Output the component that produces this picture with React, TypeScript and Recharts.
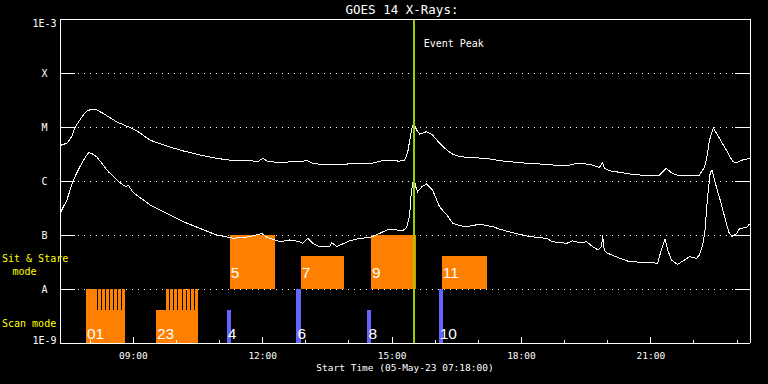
import { CartesianGrid, ComposedChart, Line, ReferenceArea, ReferenceLine, XAxis, YAxis } from 'recharts';

const TITLE = 'GOES 14 X-Rays:';
const X_TITLE = 'Start Time (05-May-23 07:18:00)';
const PEAK_LABEL = 'Event Peak';

// hours of day (UT)
const X_DOMAIN: [number, number] = [7.3, 23.3];
const HOUR_TICKS = [8, 9, 10, 11, 12, 13, 14, 15, 16, 17, 18, 19, 20, 21, 22, 23];
const LABELED_HOURS = [9, 12, 15, 18, 21];

// log10 of flux (W/m^2)
const Y_TICKS = [-9, -8, -7, -6, -5, -4, -3];
const Y_TICK_LABELS = ['1E-9', 'A', 'B', 'C', 'M', 'X', '1E-3'];

// 1-8 A channel
const LONG_TIME = [
  7.32, 7.46, 7.57, 7.65, 7.76, 7.84, 7.92, 8.03, 8.15, 8.3,
  8.61, 8.88, 9.11, 9.39, 9.77, 10.16, 10.54, 10.93, 11.32, 11.7,
  11.89, 12.0, 12.12, 12.47, 12.63, 12.86, 13.02, 13.16, 13.32, 13.79,
  14.02, 14.55, 14.78, 15.18, 15.29, 15.36, 15.41, 15.46, 15.5, 15.57,
  15.64, 15.8, 15.94, 16.1, 16.27, 16.41, 16.57, 16.87, 17.19, 17.5,
  17.96, 18.42, 18.72, 19.05, 19.28, 19.58, 19.81, 19.88, 19.93, 20.04,
  20.51, 20.97, 21.2, 21.36, 21.48, 21.67, 22.13, 22.25, 22.31, 22.36,
  22.45, 22.59, 22.75, 22.9, 22.98, 23.13, 23.29,
];
const LONG_FLUX = [
  4.6e-6, 5.0e-6, 6.6e-6, 9.9e-6, 1.35e-5, 1.67e-5, 1.98e-5, 2.13e-5, 2.07e-5, 1.79e-5,
  1.25e-5, 1.01e-5, 8.2e-6, 5.7e-6, 4.45e-6, 3.6e-6, 3.03e-6, 2.63e-6, 2.38e-6, 2.38e-6,
  2.28e-6, 2.63e-6, 2.3e-6, 2.18e-6, 2.28e-6, 2.25e-6, 2.42e-6, 2.13e-6, 2.04e-6, 1.98e-6,
  2.09e-6, 2.15e-6, 2.38e-6, 2.34e-6, 2.45e-6, 3.3e-6, 5.7e-6, 9.6e-6, 1.19e-5, 8.8e-6,
  7.4e-6, 8.2e-6, 7.1e-6, 5.0e-6, 3.75e-6, 3.12e-6, 2.82e-6, 2.7e-6, 2.63e-6, 2.38e-6,
  2.18e-6, 2.07e-6, 1.98e-6, 1.9e-6, 2.13e-6, 2.04e-6, 1.79e-6, 2.18e-6, 1.72e-6, 1.55e-6,
  1.35e-6, 1.24e-6, 1.29e-6, 1.72e-6, 1.41e-6, 1.24e-6, 1.29e-6, 1.84e-6, 3.03e-6, 5.7e-6,
  9.5e-6, 6.2e-6, 3.75e-6, 2.28e-6, 2.18e-6, 2.45e-6, 2.63e-6,
];

// 0.5-4 A channel
const SHORT_TIME = [
  7.32, 7.46, 7.61, 7.76, 7.92, 7.97, 8.03, 8.15, 8.42, 8.69,
  8.83, 8.88, 9.0, 9.39, 9.77, 10.16, 10.54, 10.93, 11.32, 11.7,
  11.98, 12.07, 12.4, 12.63, 12.86, 12.93, 13.05, 13.16, 13.32, 13.56,
  13.6, 13.72, 13.79, 14.02, 14.25, 14.48, 14.71, 14.88, 15.11, 15.25,
  15.34, 15.41, 15.43, 15.47, 15.51, 15.55, 15.59, 15.69, 15.8, 15.94,
  16.1, 16.27, 16.41, 16.57, 16.73, 17.03, 17.33, 17.5, 17.8, 18.12,
  18.42, 18.58, 18.72, 19.05, 19.19, 19.35, 19.51, 19.65, 19.77, 19.86,
  19.88, 19.92, 19.97, 20.28, 20.51, 20.97, 21.16, 21.23, 21.33, 21.39,
  21.48, 21.62, 21.78, 21.9, 22.06, 22.13, 22.2, 22.25, 22.31, 22.38,
  22.42, 22.52, 22.63, 22.75, 22.82, 22.89, 22.99, 23.06, 23.21, 23.29,
];
const SHORT_FLUX = [
  2.7e-7, 4.45e-7, 1.04e-6, 1.84e-6, 3.03e-6, 3.34e-6, 3.26e-6, 2.82e-6, 1.49e-6, 9.3e-7,
  7.8e-7, 8.4e-7, 6.1e-7, 3.6e-7, 2.52e-7, 1.76e-7, 1.33e-7, 1.0e-7, 8.7e-8, 9.3e-8,
  1.07e-7, 9.3e-8, 7.5e-8, 8.1e-8, 7.5e-8, 7.0e-8, 8.7e-8, 7.0e-8, 6.1e-8, 6.25e-8,
  7.2e-8, 6.1e-8, 6.5e-8, 7.8e-8, 8.7e-8, 8.9e-8, 1.07e-7, 1.24e-7, 1.24e-7, 1.2e-7,
  1.39e-7, 2.34e-7, 4.45e-7, 8.4e-7, 1.12e-6, 7.8e-7, 6.3e-7, 7.8e-7, 8.8e-7, 6.8e-7,
  3.34e-7, 2.34e-7, 1.65e-7, 1.49e-7, 1.43e-7, 1.58e-7, 1.43e-7, 1.28e-7, 1.1e-7, 9.6e-8,
  8.9e-8, 8.7e-8, 7.5e-8, 7.0e-8, 7.8e-8, 7.2e-8, 7.5e-8, 6.1e-8, 5.3e-8, 6.1e-8,
  1.0e-7, 5.3e-8, 4.7e-8, 3.7e-8, 3.2e-8, 3.1e-8, 3.0e-8, 4.9e-8, 8.3e-8, 5.3e-8,
  3.44e-8, 2.86e-8, 3.44e-8, 3.96e-8, 3.71e-8, 4.27e-8, 6.5e-8, 1.07e-7, 4.45e-7, 1.49e-6,
  1.55e-6, 7.8e-7, 3.86e-7, 1.65e-7, 1.07e-7, 9.3e-8, 1.07e-7, 1.33e-7, 1.36e-7, 1.6e-7,
];

const EVENT_PEAK = 15.5;

// mode rows: scan row is 1E-9..1E-8, sit & stare row is 1E-8..1E-7
const FLOOR = 1e-9;
const SCAN_HALF = 4.1e-9;
const SPLIT = 1e-8;

// scan blocks (orange, lower half of scan row)
const SCAN_ID = ['01', '23'];
const SCAN_START = [7.902, 9.524];
const SCAN_END = [8.806, 10.497];
// individual scan strips above the blocks
const STRIP_START = [
  7.902, 8.174, 8.266, 8.359, 8.452, 8.544, 8.637, 8.73,
  9.756, 9.856, 9.948, 10.041, 10.143, 10.243, 10.335, 10.435,
];
const STRIP_END = [
  8.15, 8.243, 8.336, 8.428, 8.521, 8.614, 8.706, 8.806,
  9.832, 9.925, 10.018, 10.12, 10.219, 10.312, 10.412, 10.497,
];

// single rasters (blue)
const RASTER_ID = ['4', '6', '8', '10'];
const RASTER_START = [11.169, 12.784, 14.429, 16.081];
const RASTER_END = [11.262, 12.877, 14.522, 16.174];
const RASTER_TOP = [4.1e-9, 1e-8, 4.1e-9, 1e-8];

// sit & stare pointings (orange)
const STARE_ID = ['5', '7', '9', '11'];
const STARE_START = [11.239, 12.884, 14.513, 16.151];
const STARE_END = [12.282, 13.896, 15.549, 17.194];
const STARE_TOP = [1e-7, 4.1e-8, 1e-7, 4.1e-8];

const ORANGE = '#ff8000';
const BLUE = '#6464ff';
const GREEN = '#9acd00';
const YELLOW = '#ffff00';
const MONO = '"DejaVu Sans Mono", monospace';

const lg = (v: number) => Math.log10(v);
const LONG_ROWS = LONG_TIME.map((t, i) => ({ t, lf: lg(LONG_FLUX[i]) }));
const SHORT_ROWS = SHORT_TIME.map((t, i) => ({ t, lf: lg(SHORT_FLUX[i]) }));

const hh = (h: number) => `${String(h).padStart(2, '0')}:00`;

const BottomTick = ({ x, y, payload }: any) => {
  const major = LABELED_HOURS.includes(payload.value);
  return (
    <g>
      <line x1={x} x2={x} y1={y} y2={y - (major ? 6 : 3)} stroke="#fff" />
      {major && (
        <text x={x} y={y + 15.5} fill="#fff" fontSize={9.5} fontFamily={MONO} textAnchor="middle">
          {hh(payload.value)}
        </text>
      )}
    </g>
  );
};

const TopTick = ({ x, y, payload }: any) => (
  <line x1={x} x2={x} y1={y} y2={y + (LABELED_HOURS.includes(payload.value) ? 6 : 3)} stroke="#fff" />
);

const LeftTick = ({ x, y, payload }: any) => {
  const i = Y_TICKS.indexOf(payload.value);
  const dy = i === 0 ? 0.5 : i === Y_TICKS.length - 1 ? 7.5 : 3.7;
  return (
    <g>
      <line x1={x} x2={x + 15} y1={y} y2={y} stroke="#fff" />
      <text x={x - 15.5} y={y + dy} fill="#fff" fontSize={10} fontFamily={MONO} textAnchor="middle">
        {Y_TICK_LABELS[i]}
      </text>
    </g>
  );
};

const RightTick = ({ x, y }: any) => <line x1={x - 15} x2={x} y1={y} y2={y} stroke="#fff" />;

const ModeNum = ({ viewBox, num, lift }: any) => {
  if (!viewBox) return null;
  return (
    <text
      x={viewBox.x + 1}
      y={viewBox.y + viewBox.height - lift}
      fill="#fff"
      fontSize={15.5}
      fontFamily='"Liberation Sans", sans-serif'
    >
      {num}
    </text>
  );
};

const PeakLabel = ({ viewBox }: any) => {
  if (!viewBox) return null;
  return (
    <text x={viewBox.x + 10} y={viewBox.y + 27.5} fill="#fff" fontSize={10} fontFamily={MONO}>
      {PEAK_LABEL}
    </text>
  );
};

export default function App() {
  return (
    <div
      className="goes"
      style={{ position: 'fixed', left: 0, top: 0, width: 768, height: 384, background: '#000' }}
    >
      <style>{`.goes svg line, .goes svg path, .goes svg rect { shape-rendering: crispEdges; }`}</style>
      <ComposedChart width={768} height={384} margin={{ top: 0, right: 0, bottom: 0, left: 0 }}>
        <XAxis
          dataKey="t"
          type="number"
          domain={X_DOMAIN}
          allowDataOverflow
          ticks={HOUR_TICKS}
          interval={0}
          height={41}
          tickSize={0}
          tickMargin={0}
          tickLine={false}
          axisLine={{ stroke: '#fff' }}
          tick={BottomTick}
        />
        <XAxis
          xAxisId="top"
          orientation="top"
          type="number"
          domain={X_DOMAIN}
          allowDataOverflow
          ticks={HOUR_TICKS}
          interval={0}
          height={19}
          tickSize={0}
          tickMargin={0}
          tickLine={false}
          axisLine={{ stroke: '#fff' }}
          tick={TopTick}
        />
        <YAxis
          type="number"
          domain={[-9, -3]}
          allowDataOverflow
          ticks={Y_TICKS}
          interval={0}
          width={60}
          tickSize={0}
          tickMargin={0}
          tickLine={false}
          axisLine={{ stroke: '#fff' }}
          tick={LeftTick}
        />
        <YAxis
          yAxisId="right"
          orientation="right"
          type="number"
          domain={[-9, -3]}
          allowDataOverflow
          ticks={Y_TICKS}
          interval={0}
          width={18}
          tickSize={0}
          tickMargin={0}
          tickLine={false}
          axisLine={{ stroke: '#fff' }}
          tick={RightTick}
        />
        <CartesianGrid vertical={false} stroke="#fff" strokeDasharray="1 5" />

        {SCAN_START.map((s, i) => (
          <ReferenceArea
            key={`scan-${i}`}
            x1={s}
            x2={SCAN_END[i]}
            y1={lg(FLOOR)}
            y2={lg(SCAN_HALF)}
            fill={ORANGE}
            fillOpacity={1}
            stroke="none"
            ifOverflow="visible"
            label={<ModeNum num={SCAN_ID[i]} lift={4} />}
          />
        ))}
        {STRIP_START.map((s, i) => (
          <ReferenceArea
            key={`strip-${i}`}
            x1={s}
            x2={STRIP_END[i]}
            y1={lg(SCAN_HALF)}
            y2={lg(SPLIT)}
            fill={ORANGE}
            fillOpacity={1}
            stroke="none"
            ifOverflow="visible"
          />
        ))}
        {STARE_START.map((s, i) => (
          <ReferenceArea
            key={`stare-${i}`}
            x1={s}
            x2={STARE_END[i]}
            y1={lg(SPLIT)}
            y2={lg(STARE_TOP[i])}
            fill={ORANGE}
            fillOpacity={1}
            stroke="none"
            ifOverflow="visible"
            label={<ModeNum num={STARE_ID[i]} lift={11} />}
          />
        ))}
        {RASTER_START.map((s, i) => (
          <ReferenceArea
            key={`raster-${i}`}
            x1={s}
            x2={RASTER_END[i]}
            y1={lg(FLOOR)}
            y2={lg(RASTER_TOP[i])}
            fill={BLUE}
            fillOpacity={1}
            stroke="none"
            ifOverflow="visible"
            label={<ModeNum num={RASTER_ID[i]} lift={4} />}
          />
        ))}

        <Line
          data={LONG_ROWS}
          dataKey="lf"
          type="linear"
          stroke="#fff"
          strokeWidth={1}
          dot={false}
          activeDot={false}
          isAnimationActive={false}
        />
        <Line
          data={SHORT_ROWS}
          dataKey="lf"
          type="linear"
          stroke="#fff"
          strokeWidth={1}
          dot={false}
          activeDot={false}
          isAnimationActive={false}
        />
        <ReferenceLine
          x={EVENT_PEAK}
          stroke={GREEN}
          strokeWidth={2}
          ifOverflow="visible"
          label={<PeakLabel />}
        />
      </ComposedChart>
      <svg
        width={768}
        height={384}
        style={{ position: 'absolute', left: 0, top: 0, pointerEvents: 'none' }}
      >
        <text x={402} y={14} fill="#fff" fontSize={12.5} fontFamily={MONO} textAnchor="middle">
          {TITLE}
        </text>
        <text x={405} y={371} fill="#fff" fontSize={9.5} fontFamily={MONO} textAnchor="middle">
          {X_TITLE}
        </text>
        <text x={2} y={261.5} fill={YELLOW} fontSize={10} fontFamily={MONO}>
          Sit &amp; Stare
        </text>
        <text x={12.5} y={275} fill={YELLOW} fontSize={10} fontFamily={MONO}>
          mode
        </text>
        <text x={2} y={327} fill={YELLOW} fontSize={10} fontFamily={MONO}>
          Scan mode
        </text>
      </svg>
    </div>
  );
}
